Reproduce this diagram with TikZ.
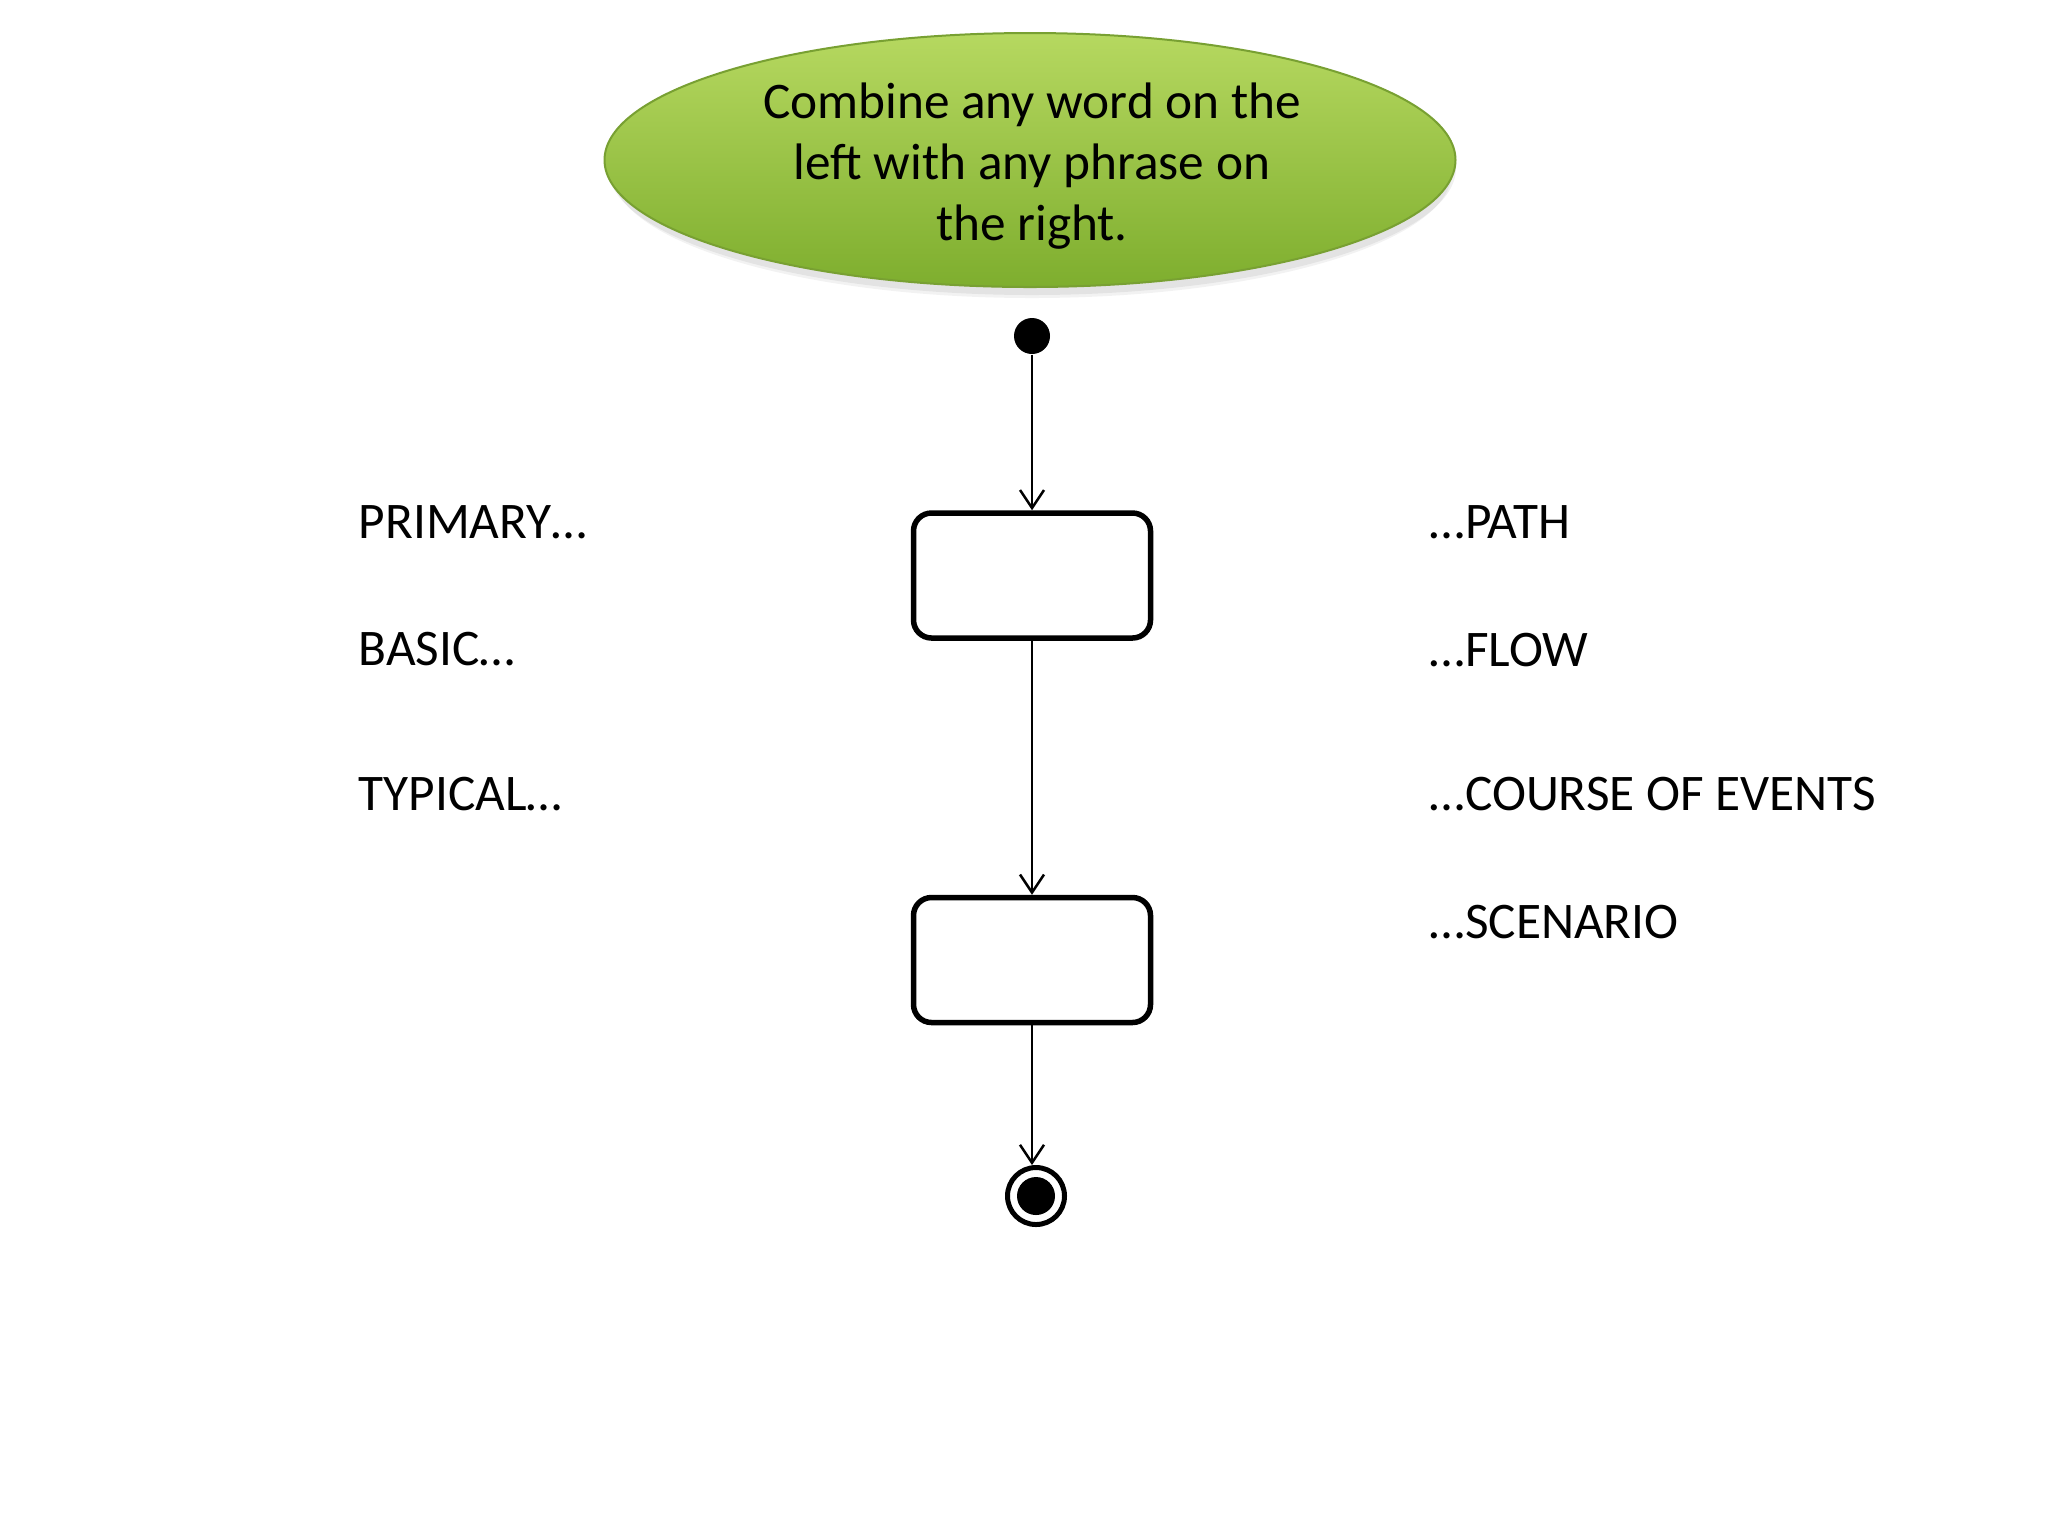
\documentclass[tikz,border=0pt]{standalone}
\usepackage{fontspec}
\setmainfont{Carlito}
\usetikzlibrary{arrows.meta,shapes.geometric}
\definecolor{gtop}{RGB}{182,216,96}
\definecolor{gbot}{RGB}{126,174,46}
\definecolor{gedge}{RGB}{120,160,50}
\tikzset{
  lbl/.style={anchor=base west, inner sep=0pt, font=\fontsize{14.6}{17.4}\selectfont},
  goalshape/.style={ellipse, minimum width=85.1mm, minimum height=25.4mm, inner sep=0pt,
     top color=gtop, bottom color=gbot, draw=gedge, line width=0.2mm},
  goaltext/.style={align=center, inner sep=0pt, font=\fontsize{14.6}{17.4}\selectfont},
  statebox/.style={draw, line width=0.55mm, rounded corners=1.8mm, minimum width=23.7mm, minimum height=12.5mm, inner sep=0pt},
  startdot/.style={circle, fill=black, minimum size=3.6mm, inner sep=0pt},
  endring/.style={circle, draw, line width=0.5mm, minimum size=5.7mm, inner sep=0pt},
  enddot/.style={circle, fill=black, minimum size=3.8mm, inner sep=0pt},
  flow/.style={-{Straight Barb[length=1.8mm,width=2.4mm]}, line width=0.25mm}
}
\begin{document}
\begin{tikzpicture}[x=0.1mm,y=-0.1mm]
\useasboundingbox[fill=white] (0,0) rectangle (2048,1536);
% soft shadow
\fill[black, opacity=0.06] (1032,168) ellipse [x radius=424, y radius=127];
\fill[black, opacity=0.05] (1032,172) ellipse [x radius=420, y radius=126];
\node[goalshape] (goal) at (1030,160) {};
\node[goaltext] (goaltxt) at (1032,166) {Combine any word on the\\left with any phrase on\\the right.};
\node[startdot] (start) at (1032,336) {};
\node[statebox] (s1) at (1032,575.5) {};
\node[statebox] (s2) at (1032,960) {};
\node[endring] (end) at (1036,1196) {};
\node[enddot] (endin) at (1036,1196) {};
\draw[flow] (start) -- (s1);
\draw[flow] (s1) -- (s2);
\draw[flow] (s2) -- (s2 |- end.north);
\node[lbl] (l1) at (358,538) {PRIMARY…};
\node[lbl] (l2) at (358,665) {BASIC…};
\node[lbl] (l3) at (358,810) {TYPICAL…};
\node[lbl] (r1) at (1429,538) {…PATH};
\node[lbl] (r2) at (1429,666) {…FLOW};
\node[lbl] (r3) at (1429,810) {…COURSE OF EVENTS};
\node[lbl] (r4) at (1429,938) {…SCENARIO};
\end{tikzpicture}
\end{document}
